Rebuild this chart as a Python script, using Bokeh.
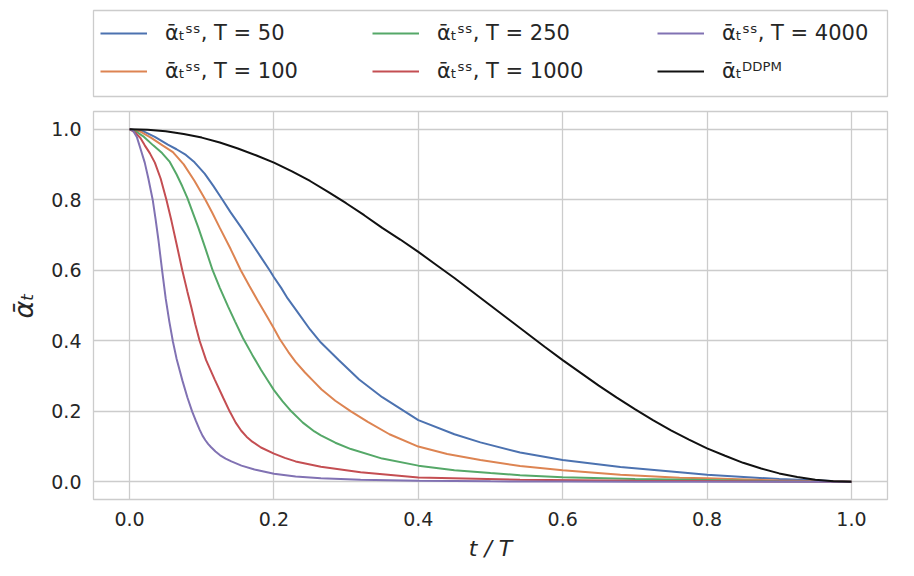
from bokeh.plotting import figure
from bokeh.models import Range1d, FixedTicker, PrintfTickFormatter, Legend, LegendItem
from bokeh.layouts import column
from bokeh.embed import file_html
from bokeh.resources import INLINE

# ---------------- data ----------------
t_50 = [0, 0.02, 0.035, 0.053, 0.065, 0.078, 0.09, 0.104, 0.116, 0.128, 0.14, 0.155, 0.168, 0.181,
        0.194, 0.2, 0.21, 0.219, 0.231, 0.25, 0.265, 0.29, 0.318, 0.35, 0.4, 0.45, 0.486, 0.541,
        0.6, 0.68, 0.762, 0.8, 0.9, 1.0]
a_50 = [1.0, 0.993, 0.978, 0.956, 0.943, 0.927, 0.906, 0.874, 0.839, 0.802, 0.764, 0.72, 0.68, 0.64,
        0.60, 0.58, 0.55, 0.52, 0.486, 0.432, 0.395, 0.345, 0.29, 0.24, 0.175, 0.135, 0.112, 0.083,
        0.062, 0.042, 0.027, 0.02, 0.008, 0.0]

t_100 = [0, 0.015, 0.03, 0.0456, 0.06, 0.075, 0.09, 0.105, 0.114, 0.125, 0.14, 0.154, 0.166, 0.178,
         0.19, 0.2, 0.208, 0.22, 0.23, 0.243, 0.255, 0.266, 0.285, 0.3066, 0.33, 0.36, 0.4, 0.44,
         0.486, 0.541, 0.6, 0.68, 0.762, 0.8, 0.9, 1.0]
a_100 = [1.0, 0.993, 0.975, 0.954, 0.935, 0.900, 0.853, 0.80, 0.765, 0.72, 0.66, 0.60, 0.555, 0.512,
         0.47, 0.435, 0.405, 0.368, 0.34, 0.31, 0.285, 0.262, 0.23, 0.20, 0.17, 0.135, 0.10, 0.079,
         0.062, 0.045, 0.033, 0.02, 0.012, 0.01, 0.004, 0.0]

t_250 = [0, 0.01, 0.02, 0.0327, 0.045, 0.0557, 0.065, 0.073, 0.08, 0.086, 0.095, 0.105, 0.115, 0.125,
         0.1365, 0.146, 0.157, 0.17, 0.182, 0.1906, 0.2, 0.212, 0.224, 0.24, 0.256, 0.265, 0.285,
         0.3066, 0.35, 0.4, 0.45, 0.5, 0.541, 0.6, 0.7, 0.8, 0.9, 1.0]
a_250 = [1.0, 0.992, 0.978, 0.954, 0.932, 0.907, 0.872, 0.838, 0.805, 0.772, 0.722, 0.662, 0.60, 0.55,
         0.497, 0.455, 0.408, 0.36, 0.318, 0.29, 0.26, 0.228, 0.20, 0.168, 0.143, 0.132, 0.111,
         0.093, 0.066, 0.046, 0.033, 0.025, 0.019, 0.013, 0.008, 0.005, 0.002, 0.0]

t_1000 = [0, 0.008, 0.015, 0.021, 0.028, 0.035, 0.043, 0.051, 0.058, 0.065, 0.073, 0.08, 0.0855,
          0.091, 0.097, 0.106, 0.118, 0.13, 0.1386, 0.147, 0.1547, 0.162, 0.17, 0.182, 0.2, 0.215,
          0.23, 0.265, 0.32, 0.4, 0.541, 0.7, 0.85, 1.0]
a_1000 = [1.0, 0.99, 0.975, 0.954, 0.932, 0.905, 0.86, 0.80, 0.74, 0.675, 0.60, 0.54, 0.495,
          0.447, 0.40, 0.345, 0.29, 0.237, 0.20, 0.168, 0.145, 0.128, 0.114, 0.0975, 0.08, 0.068,
          0.058, 0.043, 0.027, 0.0125, 0.006, 0.003, 0.0015, 0.0]

t_4000 = [0, 0.005, 0.010, 0.015, 0.021, 0.026, 0.032, 0.036, 0.040, 0.045, 0.050, 0.055, 0.060,
          0.065, 0.0732, 0.080, 0.0866, 0.092, 0.097, 0.101, 0.105, 0.109, 0.113, 0.119, 0.125,
          0.133, 0.141, 0.155, 0.173, 0.2, 0.23, 0.265, 0.32, 0.4, 0.5, 0.6, 0.7, 0.8, 0.9, 1.0]
a_4000 = [1.0, 0.995, 0.978, 0.945, 0.905, 0.86, 0.80, 0.745, 0.685, 0.60, 0.52, 0.455, 0.398,
          0.35, 0.287, 0.24, 0.20, 0.172, 0.148, 0.131, 0.118, 0.107, 0.098, 0.086, 0.076,
          0.066, 0.058, 0.046, 0.035, 0.023, 0.015, 0.0105, 0.006, 0.003, 0.0015, 0.001, 0.0006,
          0.0003, 0.0001, 0.0]

t_ddpm = [0.0, 0.025, 0.05, 0.075, 0.1, 0.125, 0.15, 0.175, 0.2, 0.225, 0.25, 0.275, 0.3, 0.325,
          0.35, 0.375, 0.4, 0.425, 0.45, 0.475, 0.5, 0.525, 0.55, 0.575, 0.6, 0.625, 0.65, 0.675,
          0.7, 0.725, 0.75, 0.775, 0.8, 0.825, 0.85, 0.875, 0.9, 0.925, 0.95, 0.975, 1.0]
a_ddpm = [1.0, 0.9985, 0.994, 0.986, 0.976, 0.962, 0.945, 0.926, 0.905, 0.88, 0.853, 0.822, 0.79,
          0.756, 0.72, 0.687, 0.652, 0.615, 0.578, 0.539, 0.50, 0.461, 0.422, 0.383, 0.345, 0.309,
          0.273, 0.239, 0.206, 0.175, 0.146, 0.12, 0.095, 0.074, 0.054, 0.038, 0.024, 0.014,
          0.006, 0.0015, 0.0]

series_labels = ["ᾱₜˢˢ, T = 50", "ᾱₜˢˢ, T = 100", "ᾱₜˢˢ, T = 250", "ᾱₜˢˢ, T = 1000",
                 "ᾱₜˢˢ, T = 4000", "ᾱₜᴰᴰᴾᴹ"]
series_colors = ["#4C72B0", "#DD8452", "#55A868", "#C44E52", "#8172B3", "#111111"]
x_ticks = [0.0, 0.2, 0.4, 0.6, 0.8, 1.0]
y_ticks = [0.0, 0.2, 0.4, 0.6, 0.8, 1.0]
x_label = "t / T"
y_label = "ᾱₜ"

series = [(t_50, a_50), (t_100, a_100), (t_250, a_250), (t_1000, a_1000),
          (t_4000, a_4000), (t_ddpm, a_ddpm)]

FONT = "DejaVu Sans"
TXT = "#262626"
GRID = "#cccccc"

# ---------------- main plot ----------------
p = figure(width=898, height=460, x_range=Range1d(-0.05, 1.05), y_range=Range1d(-0.05, 1.05),
           output_backend="svg", toolbar_location=None,
           min_border_left=92, min_border_right=10, min_border_top=3, min_border_bottom=69)

for (tx, ay), c in zip(series, series_colors):
    p.line(tx, ay, line_color=c, line_width=2)

p.outline_line_color = GRID
p.outline_line_width = 1.3
p.xgrid.grid_line_color = GRID
p.ygrid.grid_line_color = GRID
p.xgrid.grid_line_width = 1.3
p.ygrid.grid_line_width = 1.3
p.xaxis.ticker = FixedTicker(ticks=x_ticks)
p.yaxis.ticker = FixedTicker(ticks=y_ticks)
p.xaxis.formatter = PrintfTickFormatter(format="%.1f")
p.yaxis.formatter = PrintfTickFormatter(format="%.1f")
for ax in (p.xaxis, p.yaxis):
    ax.axis_line_color = None
    ax.major_tick_line_color = None
    ax.minor_tick_line_color = None
    ax.major_tick_out = 0
    ax.major_tick_in = 0
    ax.minor_tick_out = 0
    ax.major_label_text_font = FONT
    ax.major_label_text_font_size = "19px"
    ax.major_label_text_color = TXT
    ax.major_label_standoff = 12
    ax.axis_label_text_font = FONT
    ax.axis_label_text_color = TXT
    ax.axis_label_text_font_style = "italic"
p.xaxis.axis_label = x_label
p.yaxis.axis_label = y_label
p.xaxis.axis_label_text_font_size = "22px"
p.yaxis.axis_label_text_font_size = "27px"
p.xaxis.axis_label_standoff = 7
p.yaxis.axis_label_standoff = 9

# ---------------- legend panel ----------------
# ranges chosen so the legend-only line renderers fall outside this panel's frame
leg = figure(width=898, height=108, x_range=Range1d(5, 6), y_range=Range1d(5, 6),
             output_backend="svg", toolbar_location=None, x_axis_type=None, y_axis_type=None,
             min_border_left=93, min_border_right=11, min_border_top=10, min_border_bottom=12)
leg.outline_line_color = GRID
leg.outline_line_width = 1.3
leg.grid.visible = False

proxies = [leg.line(tx, ay, line_color=c, line_width=2) for (tx, ay), c in zip(series, series_colors)]

col_x = [7, 279, 564]
for i in range(3):
    items = [LegendItem(label=series_labels[2 * i + k], renderers=[proxies[2 * i + k]]) for k in range(2)]
    lg = Legend(items=items, location=(col_x[i], 12), orientation="vertical",
                border_line_color=None, background_fill_alpha=0, padding=0, margin=0,
                spacing=12, glyph_width=47, glyph_height=26, label_height=26,
                label_standoff=18, label_text_font=FONT, label_text_font_size="21px",
                label_text_color=TXT)
    leg.add_layout(lg, "center")

layout = column(leg, p)

open("out.html", "w").write(file_html(layout, INLINE))
